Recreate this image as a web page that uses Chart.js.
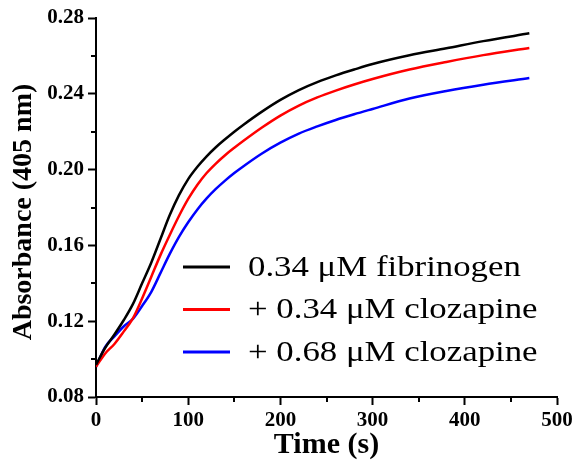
<!DOCTYPE html>
<html>
<head>
<meta charset="utf-8">
<script src="https://cdn.jsdelivr.net/npm/chart.js@4/dist/chart.umd.min.js"></script>
<style>
  html, body { margin: 0; padding: 0; background: #fff; }
  #wrap { width: 576px; height: 463px; }
</style>
</head>
<body>
<div id="wrap"><canvas id="absChart"></canvas></div>
<script>
// sampling times (s) and absorbance at 405 nm for each run
const timeS = [0, 10, 20, 30, 40, 50, 60, 70, 80, 90, 100, 110, 120, 130, 140, 150, 160, 180, 200, 220, 240, 260, 280, 300, 340, 380, 420, 470];
const fibrinogenOnly = [0.097, 0.106, 0.113, 0.1205, 0.129, 0.140, 0.151, 0.1635, 0.176, 0.1865, 0.195, 0.2015, 0.207, 0.2118, 0.216, 0.220, 0.2237, 0.2306, 0.2368, 0.2420, 0.2462, 0.2497, 0.2528, 0.2557, 0.2603, 0.264, 0.2678, 0.2719];
const clozapineLow = [0.096, 0.103, 0.108, 0.1145, 0.1215, 0.132, 0.1435, 0.155, 0.1655, 0.1755, 0.1845, 0.192, 0.1982, 0.2032, 0.2076, 0.2115, 0.2152, 0.2222, 0.2285, 0.2338, 0.2381, 0.2417, 0.2449, 0.2478, 0.2528, 0.2568, 0.2604, 0.2642];
const clozapineHigh = [0.096, 0.1065, 0.112, 0.1172, 0.1212, 0.128, 0.1355, 0.1455, 0.1555, 0.1645, 0.1722, 0.179, 0.1848, 0.1898, 0.1942, 0.1982, 0.2018, 0.2085, 0.2142, 0.219, 0.2228, 0.2262, 0.2292, 0.232, 0.2375, 0.2415, 0.2448, 0.2483];

const seriesLabels = ['0.34 μM fibrinogen', '+ 0.34 μM clozapine', '+ 0.68 μM clozapine'];
const seriesColors = ['#000000', '#ff0000', '#0000ff'];

const xTicks = [0, 100, 200, 300, 400, 500];
const yTicks = [0.08, 0.12, 0.16, 0.20, 0.24, 0.28];
const yTitle = 'Absorbance (405 nm)';

const SERIF = "'Liberation Serif', 'Times New Roman', serif";

function points(values) {
  return values.map((v, i) => ({ x: timeS[i], y: v }));
}

// half-way ticks between the labelled ones, drawn outside the axes
const minorTicks = {
  id: 'minorTicks',
  afterDraw(chart) {
    const { ctx, chartArea, scales } = chart;
    ctx.save();
    ctx.strokeStyle = '#000';
    ctx.lineWidth = 2;
    ctx.beginPath();
    for (let i = 0; i < xTicks.length - 1; i++) {
      const px = Math.round(scales.x.getPixelForValue((xTicks[i] + xTicks[i + 1]) / 2));
      ctx.moveTo(px, chartArea.bottom);
      ctx.lineTo(px, chartArea.bottom + 5);
    }
    for (let i = 0; i < yTicks.length - 1; i++) {
      const py = Math.round(scales.y.getPixelForValue((yTicks[i] + yTicks[i + 1]) / 2));
      ctx.moveTo(chartArea.left, py);
      ctx.lineTo(chartArea.left - 5, py);
    }
    ctx.stroke();
    ctx.restore();
  }
};

// rotated y title, centred a little below the middle of the axis
const yAxisTitle = {
  id: 'yAxisTitle',
  afterDraw(chart) {
    const ctx = chart.ctx;
    ctx.save();
    ctx.translate(24, 212);
    ctx.rotate(-Math.PI / 2);
    ctx.font = 'bold 28px ' + SERIF;
    ctx.fillStyle = '#000';
    ctx.textAlign = 'center';
    ctx.textBaseline = 'middle';
    ctx.fillText(yTitle, 0, 0);
    ctx.restore();
  }
};

// legend sits inside the plot, lower right; text slightly widened
const insetLegend = {
  id: 'insetLegend',
  afterDatasetsDraw(chart) {
    const ctx = chart.ctx;
    ctx.save();
    chart.data.datasets.forEach((ds, i) => {
      const rowY = 267 + i * 42.5;
      ctx.strokeStyle = ds.borderColor;
      ctx.lineWidth = 3;
      ctx.beginPath();
      ctx.moveTo(183, rowY);
      ctx.lineTo(230, rowY);
      ctx.stroke();

      ctx.save();
      ctx.translate(248, rowY + 1);
      ctx.scale(1.16, 1);
      ctx.font = '30px ' + SERIF;
      ctx.textBaseline = 'middle';
      ctx.textAlign = 'left';
      ctx.fillStyle = '#000';
      ctx.fillText(ds.label, 0, 0);
      ctx.restore();
    });
    ctx.restore();
  }
};

const ctx = document.getElementById('absChart').getContext('2d');
new Chart(ctx, {
  type: 'line',
  data: {
    datasets: [fibrinogenOnly, clozapineLow, clozapineHigh].map((vals, i) => ({
      label: seriesLabels[i],
      data: points(vals),
      borderColor: seriesColors[i],
      backgroundColor: seriesColors[i],
      borderWidth: 2.5,
      pointRadius: 0,
      cubicInterpolationMode: 'monotone',
      fill: false
    }))
  },
  options: {
    responsive: true,
    maintainAspectRatio: false,
    animation: false,
    layout: { padding: { top: 18, right: 19, bottom: 0, left: 0 } },
    plugins: {
      legend: { display: false },
      tooltip: { enabled: false }
    },
    scales: {
      x: {
        type: 'linear',
        min: 0,
        max: 500,
        afterBuildTicks: s => { s.ticks = xTicks.map(v => ({ value: v })); },
        afterFit: s => { s.height = 66; },
        border: { color: '#000', width: 2 },
        grid: { drawOnChartArea: false, drawTicks: true, tickLength: 8, tickColor: '#000', tickWidth: 2 },
        ticks: {
          color: '#000',
          padding: 3,
          maxRotation: 0,
          font: { family: SERIF, size: 21, weight: 'bold' }
        },
        title: {
          display: true,
          text: 'Time (s)',
          color: '#000',
          padding: { top: 0, bottom: 0 },
          font: { family: SERIF, size: 30, weight: 'bold' }
        }
      },
      y: {
        min: 0.08,
        max: 0.28,
        afterBuildTicks: s => { s.ticks = yTicks.map(v => ({ value: v })); },
        afterFit: s => { s.width = 96; },
        border: { color: '#000', width: 2 },
        grid: { drawOnChartArea: false, drawTicks: true, tickLength: 8, tickColor: '#000', tickWidth: 2 },
        ticks: {
          color: '#000',
          padding: 4,
          callback: v => v.toFixed(2),
          font: { family: SERIF, size: 21, weight: 'bold' }
        }
      }
    }
  },
  plugins: [minorTicks, yAxisTitle, insetLegend]
});
</script>
</body>
</html>
